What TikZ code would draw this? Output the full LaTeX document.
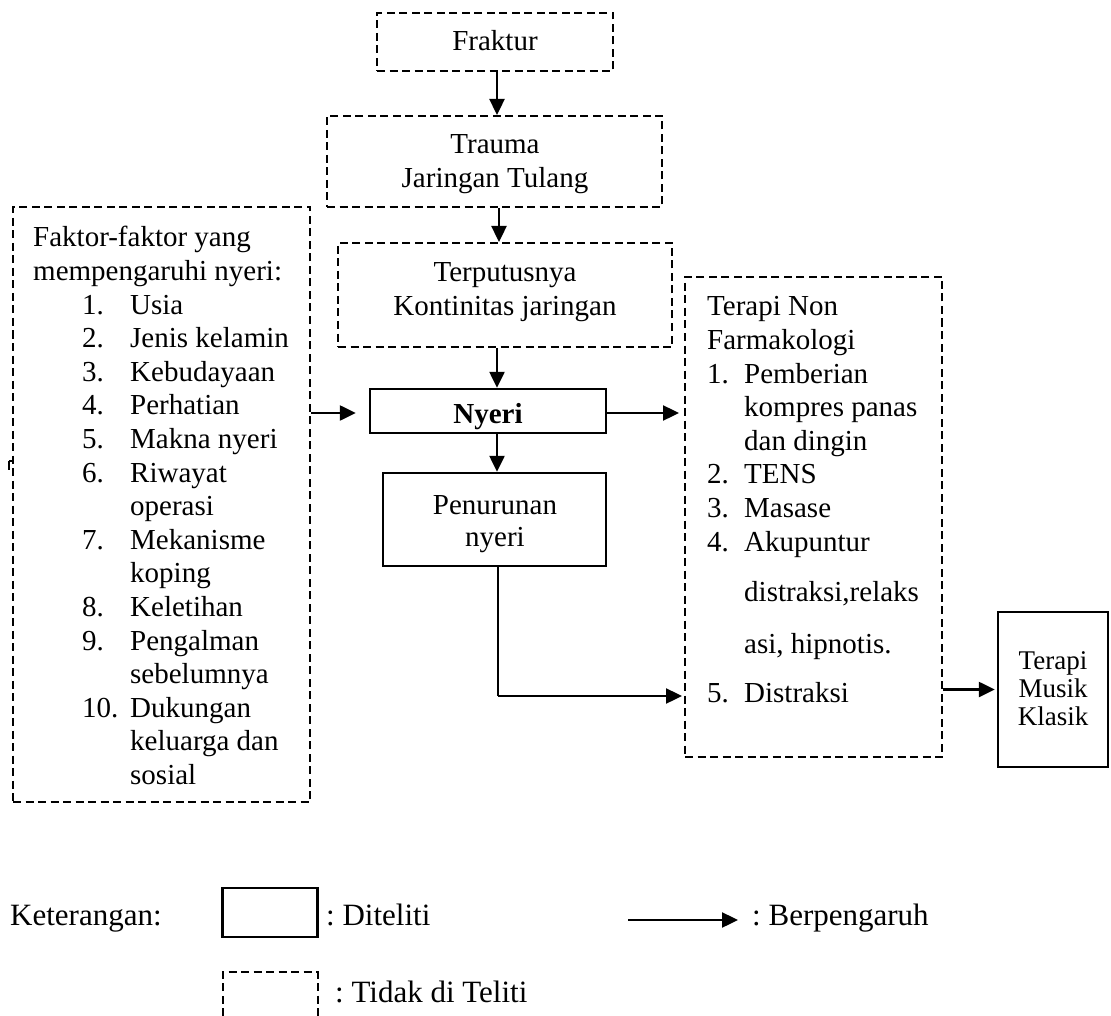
\documentclass[tikz,border=0pt]{standalone}
\usepackage{fontspec}
\setmainfont{Liberation Serif}
\usetikzlibrary{arrows.meta}
\frenchspacing
\newcommand\lnum[1]{\hspace*{49pt}\makebox[48pt][l]{#1}}
\newcommand\lcont{\hspace*{97pt}}
\newcommand\rnum[1]{\makebox[37pt][l]{#1}}
\newcommand\rcont{\hspace*{37pt}}
\begin{document}
\begin{tikzpicture}[x=1pt,y=-1pt,
  dbox/.style={draw, dash pattern=on 8pt off 4.5pt, line width=2pt, inner sep=0pt},
  sbox/.style={draw, line width=2.4pt, inner sep=0pt},
  txt/.style={inner sep=0pt, anchor=base, font=\fontsize{29}{33.6}\selectfont},
  txtl/.style={txt, anchor=base west},
  legtxt/.style={inner sep=0pt, anchor=base west, font=\fontsize{31}{36}\selectfont},
  arr/.style={line width=2.4pt, -{Triangle[length=16pt,width=15pt]}},
  plain/.style={line width=2.4pt}]
\useasboundingbox (0,0) rectangle (1111,1016);

% boxes
\node[dbox, minimum width=236pt, minimum height=58pt] (fraktur) at (495,42) {};
\node[dbox, minimum width=335pt, minimum height=91pt] (trauma) at (494.5,161.5) {};
\node[dbox, minimum width=334pt, minimum height=104pt] (putus) at (505,295) {};
\node[sbox, minimum width=236pt, minimum height=44pt] (nyeri) at (488,411) {};
\node[sbox, minimum width=223pt, minimum height=93pt] (turun) at (494.5,519.5) {};
\node[dbox, minimum width=297pt, minimum height=595pt] (faktor) at (161.5,504.5) {};
\node[dbox, minimum width=257pt, minimum height=480pt] (terapi) at (813.5,517) {};
\node[sbox, minimum width=110pt, minimum height=155pt] (musik) at (1053,689.5) {};

% texts
\node[txt] (frakturtxt) at (495,51) {Fraktur};
\node[txt] (traumatxt) at (495,154) {\begin{tabular}[t]{@{}c@{}}Trauma\\Jaringan Tulang\end{tabular}};
\node[txt] (putustxt) at (505,282) {\begin{tabular}[t]{@{}c@{}}Terputusnya\\Kontinitas jaringan\end{tabular}};
\node[txt] (nyeritxt) at (488,423) {\bfseries Nyeri};
\node[txt] (turuntxt) at (495,514) {\begin{tabular}[t]{@{}c@{}}Penurunan\\[-1.5pt]nyeri\end{tabular}};
\node[txtl] (faktortxt) at (33,247) {\begin{tabular}[t]{@{}l@{}}
Faktor-faktor yang\\
mempengaruhi nyeri:\\
\lnum{1.}Usia\\
\lnum{2.}Jenis kelamin\\
\lnum{3.}Kebudayaan\\
\lnum{4.}Perhatian\\
\lnum{5.}Makna nyeri\\
\lnum{6.}Riwayat\\
\lcont operasi\\
\lnum{7.}Mekanisme\\
\lcont koping\\
\lnum{8.}Keletihan\\
\lnum{9.}Pengalman\\
\lcont sebelumnya\\
\lnum{10.}Dukungan\\
\lcont keluarga dan\\
\lcont sosial
\end{tabular}};
\node[txtl] (terapitxt) at (707,316) {\begin{tabular}[t]{@{}l@{}}
Terapi Non\\
Farmakologi\\
\rnum{1.}Pemberian\\
\rcont kompres panas\\
\rcont dan dingin\\
\rnum{2.}TENS\\
\rnum{3.}Masase\\
\rnum{4.}Akupuntur\\[17pt]
\rcont distraksi,relaks\\[18pt]
\rcont asi, hipnotis.\\[16pt]
\rnum{5.}Distraksi
\end{tabular}};
\node[inner sep=0pt, anchor=base, font=\fontsize{27}{28}\selectfont] (musiktxt) at (1053,669)
  {\begin{tabular}[t]{@{}c@{}}Terapi\\Musik\\Klasik\end{tabular}};

% connectors
\draw[arr] (fraktur.south -| 497,0) -- (trauma.north -| 497,0);
\draw[arr] (trauma.south -| 499,0) -- (putus.north -| 499,0);
\draw[arr] (putus.south -| 497,0) -- (nyeri.north -| 497,0);
\draw[arr] (nyeri.south -| 497,0) -- (turun.north -| 497,0);
\draw[arr] (faktor.east |- 0,413) -- ([xshift=-13pt]nyeri.west |- 0,413);
\draw[arr] (nyeri.east |- 0,413) -- ([xshift=-5pt]terapi.west |- 0,413);
\draw[plain] (turun.south -| 498,0) -- (498,696) coordinate (bend);
\draw[arr] (bend) -- ([xshift=-2pt]terapi.west |- bend);
\draw[arr] (terapi.east |- musik.west) -- ([xshift=-2pt]musik.west);

% stray mark
\draw[line width=1.5pt] (9,461) -- (9,470) (9,461) -- (12,461);

% legend
\node[legtxt] (ket) at (10,925) {Keterangan:};
\node[sbox, minimum width=95pt, minimum height=49pt] (legsolid) at (270,912.5) {};
\node[legtxt] (legsolidtxt) at (326,925) {: Diteliti};
\coordinate (legA) at (628,920);
\coordinate (legB) at (738,920);
\draw[arr] (legA) -- (legB);
\node[legtxt] (legarrtxt) at (752,925) {: Berpengaruh};
\draw[dash pattern=on 8pt off 4.5pt, line width=2pt] (222.5,1016) -- (222.5,972) -- (317.5,972) -- (317.5,1016);
\node[legtxt] (legdashtxt) at (335,1002) {: Tidak di Teliti};
\end{tikzpicture}
\end{document}
